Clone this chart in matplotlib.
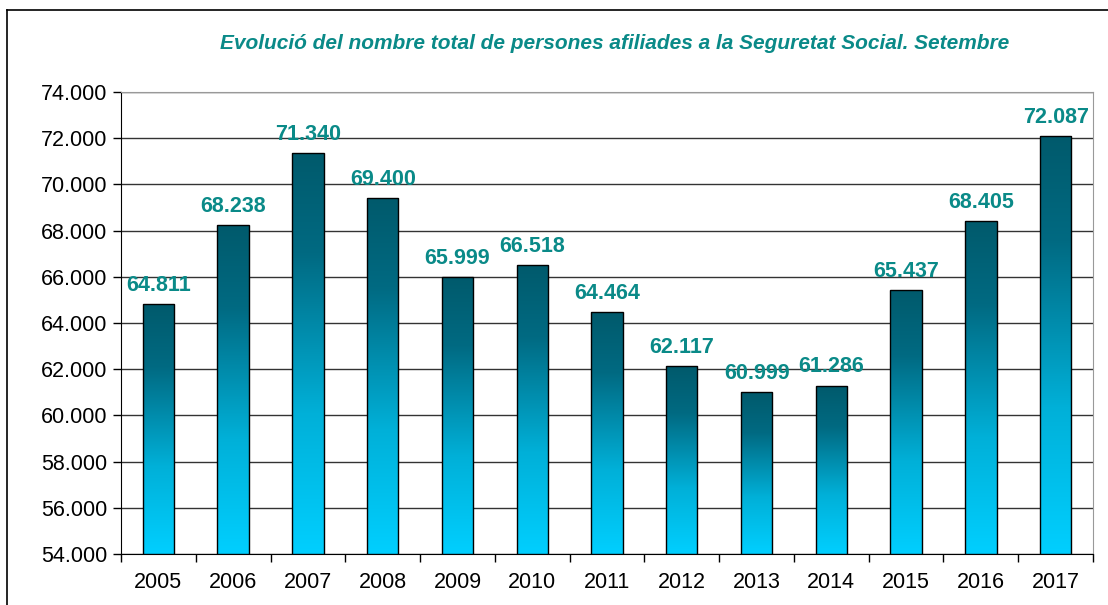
import matplotlib
matplotlib.use("Agg")
import matplotlib.pyplot as plt
from matplotlib.colors import LinearSegmentedColormap
from matplotlib.lines import Line2D
import numpy as np

plt.rcParams['font.family'] = ['Liberation Sans', 'DejaVu Sans']

years = ['2005', '2006', '2007', '2008', '2009', '2010', '2011',
         '2012', '2013', '2014', '2015', '2016', '2017']
afiliats = [64811, 68238, 71340, 69400, 65999, 66518, 64464,
            62117, 60999, 61286, 65437, 68405, 72087]

title = 'Evolució del nombre total de persones afiliades a la Seguretat Social. Setembre'
teal = '#0a8a88'

# dark at the top of each bar, light cyan at the bottom
grad = LinearSegmentedColormap.from_list(
    'bars', [(0.0, '#00cfff'), (0.35, '#00b0d8'), (0.75, '#006a82'), (1.0, '#005a6c')])

fig = plt.figure(figsize=(11.08, 6.05), dpi=100)
ax = fig.add_axes([0.1092, 0.0843, 0.8773, 0.7637])

ymin, ymax = 54000, 74000
x = np.arange(len(years))
width = 0.42

bars = ax.bar(x, np.array(afiliats) - ymin, width, bottom=ymin,
              facecolor='none', edgecolor='black', linewidth=1.0, zorder=4)

g = np.linspace(0, 1, 256).reshape(-1, 1)
for b in bars:
    x0, y0 = b.get_x(), b.get_y()
    w, h = b.get_width(), b.get_height()
    im = ax.imshow(g, cmap=grad, aspect='auto', origin='lower',
                   extent=(x0, x0 + w, y0, y0 + h), zorder=3)
    im.set_clip_path(b)

for xi, v in zip(x, afiliats):
    ax.annotate(f'{v:,}'.replace(',', '.'), (xi, v), xytext=(0, 9.5),
                textcoords='offset points', ha='center', va='baseline',
                fontsize=15.5, fontweight='bold', color=teal, zorder=5)

ax.set_xlim(-0.5, len(years) - 0.5)
ax.set_ylim(ymin, ymax)
ax.set_yticks(np.arange(ymin, ymax + 1, 2000))
ax.set_yticklabels([f'{t:,}'.replace(',', '.') for t in range(ymin, ymax + 1, 2000)],
                   fontsize=15.5)
ax.set_xticks(x)
ax.set_xticklabels(years, fontsize=15.5)
ax.set_xticks(np.arange(-0.5, len(years), 1), minor=True)
ax.tick_params(axis='x', which='major', length=0, pad=13)
ax.tick_params(axis='x', which='minor', length=6, width=1, color='black')
ax.tick_params(axis='y', length=6, width=1, pad=4)

ax.grid(axis='y', color='#333333', linewidth=1.0, zorder=1)
ax.set_axisbelow(True)

for side in ['top', 'right']:
    ax.spines[side].set_color('#999999')
for side in ['left', 'bottom']:
    ax.spines[side].set_color('black')

fig.text(0.555, 0.928, title, ha='center', va='center', fontsize=15,
         fontstyle='italic', fontweight='bold', color=teal)

# outer frame: only top and left edges visible in the crop
fig.add_artist(Line2D([7 / 1108, 1], [1 - 10 / 605, 1 - 10 / 605],
                      transform=fig.transFigure, color='black', linewidth=1.2))
fig.add_artist(Line2D([7 / 1108, 7 / 1108], [0, 1 - 10 / 605],
                      transform=fig.transFigure, color='black', linewidth=1.2))

fig.savefig('out.png', dpi=100)
